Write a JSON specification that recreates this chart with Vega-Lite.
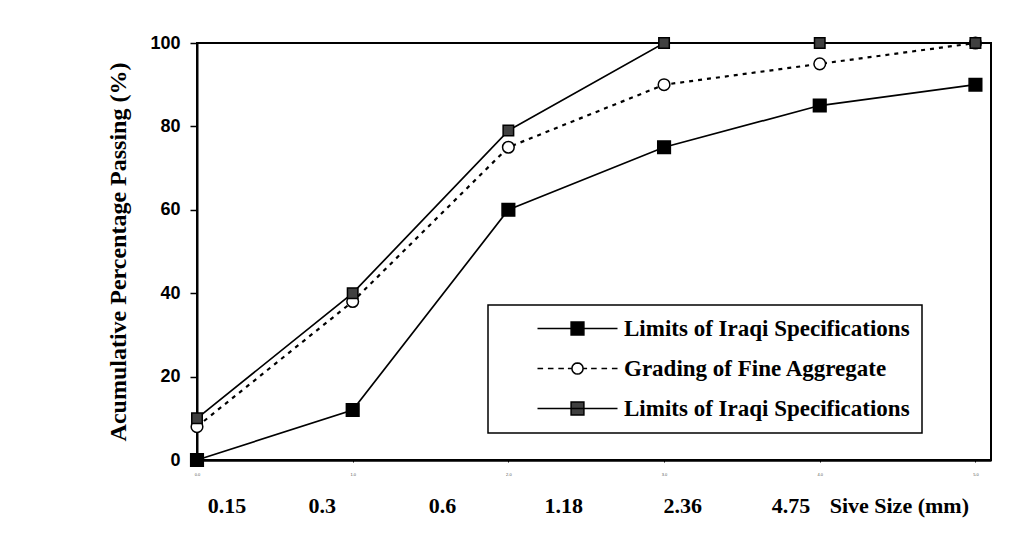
{
  "$schema": "https://vega.github.io/schema/vega-lite/v6.json",
  "autosize": {"type": "none"},
  "width": 794,
  "height": 417,
  "padding": {"left": 197, "top": 43, "right": 24, "bottom": 100},
  "background": "white",
  "config": {
    "view": {"stroke": "black", "strokeWidth": 2},
    "axis": {"grid": false, "domainColor": "black", "tickColor": "black", "labelColor": "black", "titleColor": "black", "labelFlush": false}
  },
  "datasets": {
    "curves": [
      {"series": "Grading", "marker": "open circle", "sieve": "0.15", "idx": 0, "value": 8},
      {"series": "Grading", "marker": "open circle", "sieve": "0.3", "idx": 1, "value": 38},
      {"series": "Grading", "marker": "open circle", "sieve": "0.6", "idx": 2, "value": 75},
      {"series": "Grading", "marker": "open circle", "sieve": "1.18", "idx": 3, "value": 90},
      {"series": "Grading", "marker": "open circle", "sieve": "2.36", "idx": 4, "value": 95},
      {"series": "Grading", "marker": "open circle", "sieve": "4.75", "idx": 5, "value": 100},
      {"series": "Lower", "marker": "black square", "sieve": "0.15", "idx": 0, "value": 0},
      {"series": "Lower", "marker": "black square", "sieve": "0.3", "idx": 1, "value": 12},
      {"series": "Lower", "marker": "black square", "sieve": "0.6", "idx": 2, "value": 60},
      {"series": "Lower", "marker": "black square", "sieve": "1.18", "idx": 3, "value": 75},
      {"series": "Lower", "marker": "black square", "sieve": "2.36", "idx": 4, "value": 85},
      {"series": "Lower", "marker": "black square", "sieve": "4.75", "idx": 5, "value": 90},
      {"series": "Upper", "marker": "grey square", "sieve": "0.15", "idx": 0, "value": 10},
      {"series": "Upper", "marker": "grey square", "sieve": "0.3", "idx": 1, "value": 40},
      {"series": "Upper", "marker": "grey square", "sieve": "0.6", "idx": 2, "value": 79},
      {"series": "Upper", "marker": "grey square", "sieve": "1.18", "idx": 3, "value": 100},
      {"series": "Upper", "marker": "grey square", "sieve": "2.36", "idx": 4, "value": 100},
      {"series": "Upper", "marker": "grey square", "sieve": "4.75", "idx": 5, "value": 100}
    ],
    "labels": [
      {"label": "0.15", "idx": 0.193},
      {"label": "0.3", "idx": 0.804},
      {"label": "0.6", "idx": 1.577},
      {"label": "1.18", "idx": 2.355},
      {"label": "2.36", "idx": 3.12},
      {"label": "4.75", "idx": 3.816},
      {"label": "Sive Size (mm)", "idx": 4.511}
    ]
  },
  "layer": [
    {
      "data": {"name": "curves"},
      "transform": [{"filter": "datum.series !== 'Grading'"}],
      "mark": {"type": "line", "strokeWidth": 1.7},
      "encoding": {
        "x": {
          "field": "idx", "type": "quantitative",
          "scale": {"domain": [0, 5.1], "nice": false, "zero": false},
          "axis": {"values": [0, 1, 2, 3, 4, 5], "title": null, "tickSize": 2, "tickWidth": 1, "labelFontSize": 4, "labelColor": "#555555", "labelPadding": 10, "domainWidth": 2.5}
        },
        "y": {
          "field": "value", "type": "quantitative",
          "scale": {"domain": [0, 100], "nice": false},
          "axis": {"values": [0, 20, 40, 60, 80, 100], "title": "Acumulative Percentage Passing (%)", "tickSize": 7, "tickWidth": 1.5, "domainWidth": 2, "labelFont": "Liberation Sans", "labelFontWeight": "bold", "labelFontSize": 18, "labelPadding": 10, "titleFont": "Liberation Serif", "titleFontWeight": "bold", "titleFontSize": 24, "titlePadding": 19}
        },
        "color": {
          "field": "series", "type": "nominal",
          "scale": {"domain": ["Lower", "Grading", "Upper"], "range": ["black", "black", "black"]},
          "legend": {
            "orient": "none", "legendX": 291, "legendY": 262, "title": null,
            "strokeColor": "black", "fillColor": "white", "padding": 12,
            "symbolSize": 400, "symbolOffset": 66, "labelOffset": 35, "rowPadding": 16,
            "labelFont": "Liberation Serif", "labelFontWeight": "bold", "labelFontSize": 23, "labelColor": "black", "labelLimit": 0,
            "labelExpr": "datum.value === 'Grading' ? 'Grading of Fine Aggregate' : 'Limits of Iraqi Specifications'",
            "encode": {
              "legend": {"update": {"strokeWidth": {"value": 1.5}}},
              "symbols": {"update": {
                "shape": {"signal": "datum.value === 'Grading' ? 'M-4,0L-3.44,0M-2.96,0L-2.4,0M-1.92,0L-1.36,0M-0.96,0L-0.56,0M0.56,0L0.96,0M1.36,0L1.92,0M2.4,0L2.96,0M3.44,0L4,0M0.56,0L0.517,0.214L0.396,0.396L0.214,0.517L0,0.56L-0.214,0.517L-0.396,0.396L-0.517,0.214L-0.56,0L-0.517,-0.214L-0.396,-0.396L-0.214,-0.517L0,-0.56L0.214,-0.517L0.396,-0.396L0.517,-0.214Z' : 'M-4,0L4,0M-0.64,-0.64L0.64,-0.64L0.64,0.64L-0.64,0.64Z'"},
                "fill": {"signal": "datum.value === 'Lower' ? 'black' : datum.value === 'Grading' ? 'white' : '#404040'"},
                "size": {"value": 400},
                "stroke": {"value": "black"},
                "strokeWidth": {"value": 1.5},
                "opacity": {"value": 1}
              }}
            }
          }
        }
      }
    },
    {
      "data": {"name": "curves"},
      "transform": [{"filter": "datum.series === 'Grading'"}],
      "mark": {"type": "line", "strokeWidth": 2.2, "strokeDash": [4, 5]},
      "encoding": {
        "x": {"field": "idx", "type": "quantitative"},
        "y": {"field": "value", "type": "quantitative"},
        "color": {"field": "series", "type": "nominal"}
      }
    },
    {
      "data": {"name": "curves"},
      "mark": {"type": "point", "filled": true, "opacity": 1, "stroke": "black", "strokeWidth": 1.5},
      "encoding": {
        "x": {"field": "idx", "type": "quantitative"},
        "y": {"field": "value", "type": "quantitative"},
        "shape": {
          "field": "marker", "type": "nominal",
          "scale": {"domain": ["black square", "open circle", "grey square"], "range": ["square", "circle", "square"]},
          "legend": null
        },
        "fill": {
          "field": "marker", "type": "nominal",
          "scale": {"domain": ["black square", "open circle", "grey square"], "range": ["black", "white", "#404040"]},
          "legend": null
        },
        "size": {
          "field": "marker", "type": "nominal",
          "scale": {"domain": ["black square", "open circle", "grey square"], "range": [160, 110, 160]},
          "legend": null
        }
      }
    },
    {
      "data": {"name": "labels"},
      "mark": {"type": "text", "font": "Liberation Serif", "fontWeight": "bold", "fontSize": 22, "baseline": "alphabetic", "align": "center", "color": "black"},
      "encoding": {
        "x": {"field": "idx", "type": "quantitative"},
        "y": {"datum": -12.7, "type": "quantitative"},
        "text": {"field": "label", "type": "nominal"}
      }
    }
  ]
}
